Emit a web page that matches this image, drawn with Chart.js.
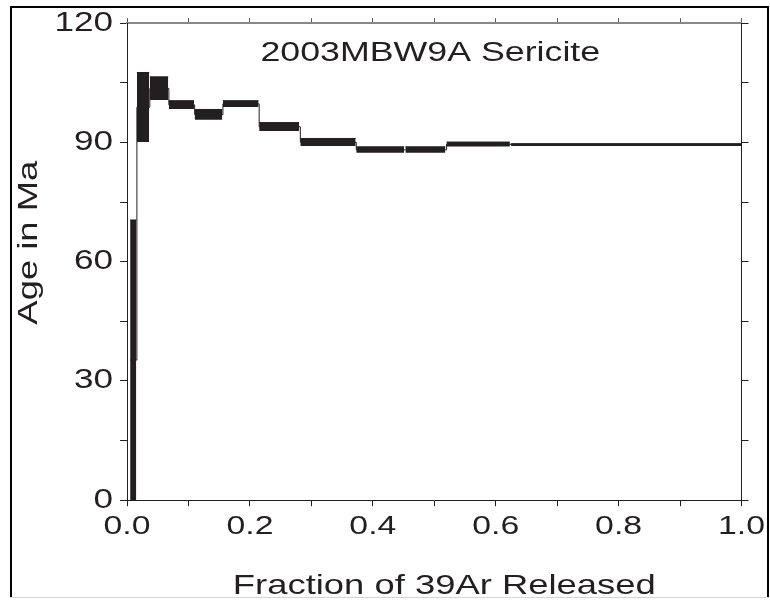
<!DOCTYPE html>
<html>
<head>
<meta charset="utf-8">
<script src="https://cdn.jsdelivr.net/npm/chart.js@4.4.1/dist/chart.umd.min.js"></script>
<style>
    html, body { margin: 0; padding: 0; background: #fff; }
    canvas { display: block; }
</style>
</head>
<body>
<canvas id="spectrumChart" width="770" height="600"></canvas>
<script>
// 단계별 39Ar 누적 분율 (시작 / 끝)
const fracStart = [0.005, 0.016, 0.037, 0.068, 0.110, 0.156, 0.215, 0.282, 0.373, 0.453, 0.520, 0.625];
const fracEnd   = [0.015, 0.036, 0.067, 0.109, 0.155, 0.214, 0.280, 0.372, 0.451, 0.518, 0.623, 1.000];
// 단계별 연대 범위 (Ma)
const ageLow  = [0.0, 90.1, 100.7, 98.4, 95.7, 98.9, 92.9, 89.1, 87.4, 87.4, 89.0, 89.1];
const ageHigh = [70.5, 107.6, 106.5, 100.5, 98.3, 100.5, 95.0, 91.0, 88.9, 88.9, 90.1, 89.7];

// 눈금 라벨
const xTickLabels = ['0.0', '', '0.2', '', '0.4', '', '0.6', '', '0.8', '', '1.0'];
const yTickLabels = ['0', '', '30', '', '60', '', '90', '', '120'];

const chartTitle = '2003MBW9A Sericite';
const xTitle = 'Fraction of 39Ar Released';
const yTitle = 'Age in Ma';

const INK = '#231f20';
const FONT = '"Liberation Sans", Arial, sans-serif';
const STRETCH = 1.3; // 원본 글꼴이 가로로 넓음

document.addEventListener('DOMContentLoaded', function() {
    const canvas = document.getElementById('spectrumChart');
    const ctx = canvas.getContext('2d');

    // 글자를 가로로 늘려서 그리기
    const baseFill = ctx.fillText.bind(ctx);
    const baseMeasure = ctx.measureText.bind(ctx);
    ctx.fillText = function(text, x, y) {
        ctx.save();
        ctx.translate(x, y);
        ctx.scale(STRETCH, 1);
        baseFill(text, 0, 0);
        ctx.restore();
    };
    ctx.measureText = function(text) {
        return { width: baseMeasure(text).width * STRETCH };
    };

    // 각 단계 상자
    const boxDatasets = fracStart.map(function(start, i) {
        return {
            data: [{ x: start, y: ageHigh[i] }, { x: fracEnd[i], y: ageHigh[i] }],
            fill: { value: ageLow[i] },
            backgroundColor: INK,
            borderColor: INK,
            borderWidth: 1,
            pointRadius: 0
        };
    });

    // 상자 사이를 잇는 가는 선
    const stepPoints = fracStart.map(function(start, i) {
        return { x: start, y: (ageLow[i] + ageHigh[i]) / 2 };
    });
    stepPoints.push({ x: fracEnd[fracEnd.length - 1], y: stepPoints[stepPoints.length - 1].y });

    const frameAndText = {
        id: 'frameAndText',
        beforeDraw(chart) {
            const c = chart.ctx;
            c.save();
            c.fillStyle = '#000';
            c.fillRect(10, 6, 759, 2);
            c.fillRect(10, 6, 2, 592);
            c.fillRect(767, 6, 2, 592);
            c.fillStyle = '#d4d4d4';
            c.fillRect(10, 597, 759, 1);
            c.restore();
        },
        afterDraw(chart) {
            const c = chart.ctx;
            const area = chart.chartArea;
            const midX = (area.left + area.right) / 2;
            const midY = (area.top + area.bottom) / 2;
            c.save();
            c.fillStyle = INK;
            c.textAlign = 'center';
            c.textBaseline = 'alphabetic';
            c.font = '27.5px ' + FONT;
            c.fillText(chartTitle, midX - 4, area.top + 38);
            c.font = '28px ' + FONT;
            c.fillText(xTitle, midX + 10, area.bottom + 94);
            c.translate(area.left - 90, midY - 19);
            c.rotate(-Math.PI / 2);
            c.fillText(yTitle, 0, 0);
            c.restore();
        }
    };

    const spectrumChart = new Chart(ctx, {
        type: 'line',
        data: {
            datasets: boxDatasets.concat([{
                data: stepPoints,
                stepped: 'before',
                fill: false,
                borderColor: INK,
                borderWidth: 1,
                pointRadius: 0
            }])
        },
        options: {
            responsive: false,
            animation: false,
            events: [],
            layout: {
                padding: { left: 47.5, top: 18, right: 18, bottom: 52.6 }
            },
            scales: {
                x: {
                    type: 'linear',
                    position: 'bottom',
                    min: 0,
                    max: 1,
                    ticks: {
                        stepSize: 0.1,
                        autoSkip: false,
                        maxRotation: 0,
                        padding: 5,
                        color: INK,
                        font: { family: FONT, size: 26 },
                        callback: function(value, index) { return xTickLabels[index]; }
                    },
                    grid: { drawOnChartArea: false, tickLength: 6, tickColor: INK },
                    border: { color: INK, width: 1 }
                },
                x2: {
                    type: 'linear',
                    position: 'top',
                    min: 0,
                    max: 1,
                    ticks: { stepSize: 0.1, display: false },
                    grid: { drawOnChartArea: false, tickLength: 5, tickColor: '#555' },
                    border: { color: '#888', width: 2 }
                },
                y: {
                    type: 'linear',
                    position: 'left',
                    min: 0,
                    max: 120,
                    ticks: {
                        stepSize: 15,
                        autoSkip: false,
                        padding: 7,
                        color: INK,
                        font: { family: FONT, size: 27 },
                        callback: function(value, index) { return yTickLabels[index]; }
                    },
                    grid: { drawOnChartArea: false, tickLength: 7, tickColor: INK },
                    border: { color: INK, width: 1 }
                },
                y2: {
                    type: 'linear',
                    position: 'right',
                    min: 0,
                    max: 120,
                    ticks: { stepSize: 15, display: false },
                    grid: { drawOnChartArea: false, tickLength: 7, tickColor: INK },
                    border: { color: INK, width: 1 }
                }
            },
            plugins: {
                legend: { display: false },
                tooltip: { enabled: false }
            }
        },
        plugins: [frameAndText]
    });
});
</script>
</body>
</html>
